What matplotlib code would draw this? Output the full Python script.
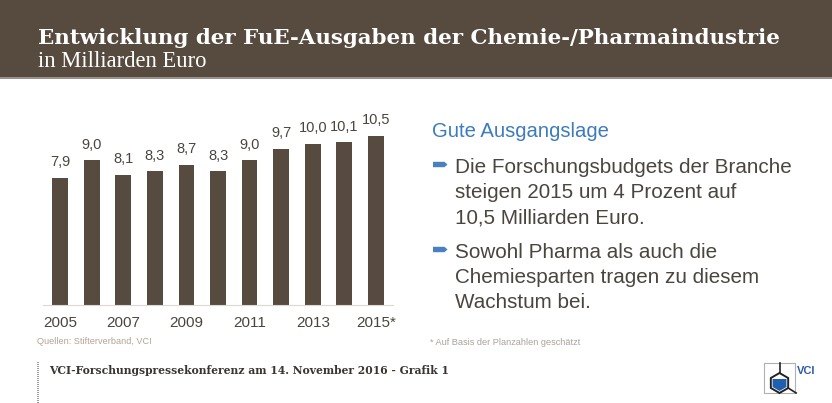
import matplotlib
matplotlib.use("Agg")
import matplotlib.pyplot as plt
from matplotlib.patches import Rectangle, Polygon
import numpy as np

years = ["2005", "2006", "2007", "2008", "2009", "2010", "2011", "2012", "2013", "2014", "2015*"]
values = [7.9, 9.0, 8.1, 8.3, 8.7, 8.3, 9.0, 9.7, 10.0, 10.1, 10.5]
value_labels = ["7,9", "9,0", "8,1", "8,3", "8,7", "8,3", "9,0", "9,7", "10,0", "10,1", "10,5"]
shown_years = ["2005", "2007", "2009", "2011", "2013", "2015*"]

title = "Entwicklung der FuE-Ausgaben der Chemie-/Pharmaindustrie"
subtitle = "in Milliarden Euro"
heading = "Gute Ausgangslage"
bullets = [
    ["Die Forschungsbudgets der Branche", "steigen 2015 um 4 Prozent auf", "10,5 Milliarden Euro."],
    ["Sowohl Pharma als auch die", "Chemiesparten tragen zu diesem", "Wachstum bei."],
]
source = "Quellen: Stifterverband, VCI"
footnote = "* Auf Basis der Planzahlen geschätzt"
footer = "VCI-Forschungspressekonferenz am 14. November 2016 - Grafik 1"

BROWN = "#574b3f"
TEXT = "#4b453f"
BLUE = "#3c7bbf"
W, H = 832, 403

fig = plt.figure(figsize=(W / 100, H / 100), dpi=100)

# overlay in pixel coordinates for the decoration
deco = fig.add_axes([0, 0, 1, 1], zorder=0)
deco.set_xlim(0, W)
deco.set_ylim(H, 0)
deco.axis("off")

deco.add_patch(Rectangle((0, 0), W, 77, color=BROWN, lw=0))
deco.add_patch(Rectangle((0, 77), W, 2, color="#9a9288", lw=0))
deco.text(38, 44, title, family="DejaVu Serif", weight="bold", fontsize=15.4,
          color="white", va="baseline")
deco.text(38, 67, subtitle, family="Liberation Serif", fontsize=16.3,
          color="white", va="baseline")

# bar chart
ax = fig.add_axes([43 / W, 98 / H, 350 / W, 205 / H], zorder=1)
ax.patch.set_alpha(0)
x = np.arange(len(years))
ax.bar(x, values, width=0.5, color=BROWN)
ax.set_xlim(-0.54, 10.54)
ax.set_ylim(0, 12.73)
for s in ["top", "right", "left"]:
    ax.spines[s].set_visible(False)
ax.spines["bottom"].set_color("#dcd8d4")
ax.set_xticks([])
ax.set_yticks([])
for i, (v, lab) in enumerate(zip(values, value_labels)):
    ax.annotate(lab, (i, v), xytext=(0, 8.3), textcoords="offset points",
                ha="center", va="baseline", fontsize=10.5,
                family="Liberation Sans", color=TEXT)
for i, yr in enumerate(years):
    if yr in shown_years:
        ax.annotate(yr, (i, 0), xytext=(0, -15.8), textcoords="offset points",
                    ha="center", va="baseline", fontsize=11,
                    family="Liberation Sans", color=TEXT)

deco.text(37, 344, source, family="Liberation Sans", fontsize=6.6,
          color="#b3a594", va="baseline")

# right text block
deco.text(432, 137, heading, family="Liberation Sans", fontsize=14.6,
          color=BLUE, va="baseline")
base = [173, 258]
for b, lines in zip(base, bullets):
    yc = b - 8.5
    deco.add_patch(Polygon([(433, yc - 2.7), (444.5, yc - 2.7), (447.5, yc),
                            (444.5, yc + 2.7), (433, yc + 2.7)],
                           closed=True, color="#4a80c0", lw=0))
    for k, line in enumerate(lines):
        deco.text(455, b + 25 * k, line, family="Liberation Sans", fontsize=14.9,
                  color=TEXT, va="baseline")
deco.text(430, 345, footnote, family="Liberation Sans", fontsize=6.6,
          color="#aaa299", va="baseline")

# footer
deco.plot([38, 38], [362, 403], color="#8a8a8a", lw=1.2, ls=(0, (0.6, 0.6)))
deco.text(49, 374, footer, family="DejaVu Serif", weight="bold", fontsize=7.75,
          color="#3a3530", va="baseline")

# VCI logo
deco.add_patch(Rectangle((764, 363), 31, 30, fill=False, ec="#b0b0b0", lw=0.8))
cx, cy, r = 779.5, 383, 10
ang = np.deg2rad([90, 30, -30, -90, -150, 150])
hx = cx + r * np.cos(ang)
hy = cy - r * np.sin(ang)
ri = r - 2
ix = cx + ri * np.cos(ang[1:])
iy = cy - ri * np.sin(ang[1:])
deco.add_patch(Polygon(list(zip(ix, iy)), closed=True, color="#1f5fae", lw=0))
deco.add_patch(Polygon(list(zip(hx, hy)), closed=True, fill=False, ec="#222222", lw=1.4))
deco.plot([cx, cx], [363, cy - r], color="#222222", lw=1.2)
deco.plot([hx[2], hx[2] + 8], [hy[2], hy[2] + 5], color="#222222", lw=1.2)
deco.text(797, 371, "VCI", family="Liberation Sans", weight="bold", fontsize=8,
          color="#2a5ca8", va="center")

fig.savefig("out.png", dpi=100)
